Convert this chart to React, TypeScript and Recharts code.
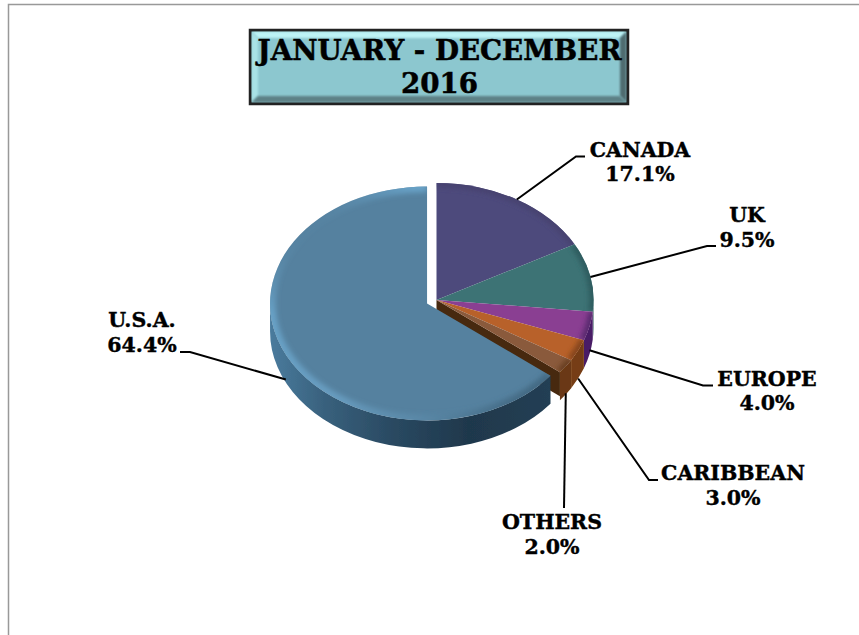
import { Pie, PieChart } from "recharts";

const categories = ["CANADA", "UK", "EUROPE", "CARIBBEAN", "OTHERS", "U.S.A."];
const values = [17.1, 9.5, 4.0, 3.0, 2.0, 64.4];
const titleLines = ["JANUARY - DECEMBER", "2016"];

const faceColors = ["#4d4a7c", "#3d7375", "#8a3f92", "#b8612a", "#8a5a3c", "#55819f"];
const wallColors = ["#3f3c68", "#2a5658", "#4a1f66", "#763d12", "#6a3812", "url(#usaWall)"];
const rimColors = ["#46436f", "#2f5c5e", "#5a2a70", "#84451a", "#6a3f22", "url(#usaRim)"];
const explode = [0, 0, 0, 0, 0, 10.5];

// label layout: text centre, first baseline, elbow points of the leader, drop onto the side wall
const labelX = [640, 747, 767, 733, 552, 142];
const labelY = [156.5, 222, 385.5, 480, 529, 327];
const leaderDrop = [0, 0, 24, 28, 27, 25];
const leaderEnds = [
  [[576, 156.5], [585, 156.5]],
  [[707, 246], [716, 246]],
  [[703, 385.5], [713, 385.5]],
  [[649, 480], [658, 480]],
  [[564, 508]],
  [[190, 352], [180, 352]],
];

const data = categories.map((name, i) => ({ name, value: values[i] }));

const WIDTH = 859;
const HEIGHT = 635;
const SQUASH = 0.745;
const DEPTH = 28;
const FONT = "'DejaVu Serif', serif";

const rad = (a: number) => (a * Math.PI) / 180;

function pointAt(cx: number, cy: number, r: number, a: number, dy = 0) {
  return [cx + r * Math.cos(rad(a)), cy - r * SQUASH * Math.sin(rad(a)) + dy];
}

function exploded(cx: number, cy: number, mid: number, i: number) {
  const [x, y] = pointAt(cx, cy, explode[i], mid);
  return [x, y];
}

function TiltedSlice(props: any) {
  const { cx, cy, outerRadius: r, startAngle, endAngle, midAngle } = props;
  const i = categories.indexOf(props.name ?? props.payload?.name);
  const [ax, ay] = exploded(cx, cy, midAngle, i);
  const ry = r * SQUASH;
  const [x1, y1] = pointAt(ax, ay, r, startAngle);
  const [x2, y2] = pointAt(ax, ay, r, endAngle);
  const large = Math.abs(startAngle - endAngle) > 180 ? 1 : 0;
  const arc = `M${x1},${y1} A${r},${ry} 0 ${large} 1 ${x2},${y2}`;
  const face = `M${ax},${ay} L${x1},${y1} A${r},${ry} 0 ${large} 1 ${x2},${y2} Z`;

  // only the front half of the rim has a visible side wall
  const wallFrom = Math.min(startAngle, 0);
  const wallTo = Math.max(endAngle, -180);
  let wall = "";
  if (wallFrom > wallTo) {
    const [wx1, wy1] = pointAt(ax, ay, r, wallFrom);
    const [wx2, wy2] = pointAt(ax, ay, r, wallTo);
    const wl = wallFrom - wallTo > 180 ? 1 : 0;
    wall = `M${wx1},${wy1} A${r},${ry} 0 ${wl} 1 ${wx2},${wy2} L${wx2},${wy2 + DEPTH} A${r},${ry} 0 ${wl} 0 ${wx1},${wy1 + DEPTH} Z`;
  }
  // the cut side shows where the big slice is pulled away
  const cut = i === 4 ? `M${ax},${ay} L${x2},${y2} L${x2},${y2 + DEPTH - 4} L${ax},${ay + DEPTH - 4} Z` : "";

  return (
    <g>
      {cut && <path d={cut} fill="#47290f" />}
      {wall && <path d={wall} fill={wallColors[i]} filter="url(#softEdge)" />}
      <path d={face} fill={faceColors[i]} />
      <clipPath id={`face-${i}`}>
        <path d={face} />
      </clipPath>
      <g clipPath={`url(#face-${i})`}>
        <path d={arc} fill="none" stroke={rimColors[i]} strokeWidth={i === 5 ? 11 : 9} filter="url(#rimBlur)" />
      </g>
    </g>
  );
}

function LeaderLabel(props: any) {
  const { cx, cy, outerRadius: r, midAngle, index, name, value } = props;
  const [ax, ay] = exploded(cx, cy, midAngle, index);
  const start = pointAt(ax, ay, r, midAngle, leaderDrop[index]);
  const pts = [start, ...leaderEnds[index]].map((p) => p.join(",")).join(" ");
  const textProps = {
    textAnchor: "middle" as const,
    fontFamily: FONT,
    fontWeight: 700,
    fontSize: 20.5,
    fill: "#000",
    stroke: "#000",
    strokeWidth: 0.4,
  };
  return (
    <g>
      <polyline points={pts} fill="none" stroke="#000" strokeWidth={2} />
      <text x={labelX[index]} y={labelY[index]} {...textProps}>
        {name}
      </text>
      <text x={labelX[index]} y={labelY[index] + 24.5} {...textProps}>
        {`${value.toFixed(1)}%`}
      </text>
    </g>
  );
}

export default function App() {
  const titleProps = {
    textAnchor: "middle" as const,
    fontFamily: FONT,
    fontWeight: 700,
    fontSize: 27.7,
    fill: "#000",
    stroke: "#000",
    strokeWidth: 0.5,
  };
  return (
    <div style={{ position: "absolute", left: 0, top: 0, width: WIDTH, height: HEIGHT, background: "#fff" }}>
      <PieChart width={WIDTH} height={HEIGHT} margin={{ top: 0, right: 0, bottom: 0, left: 0 }}>
        <defs>
          <filter id="rimBlur" filterUnits="userSpaceOnUse" x="0" y="0" width={WIDTH} height={HEIGHT}>
            <feGaussianBlur stdDeviation="2.6" />
          </filter>
          <filter id="softEdge" filterUnits="userSpaceOnUse" x="0" y="0" width={WIDTH} height={HEIGHT}>
            <feGaussianBlur stdDeviation="0.5" />
          </filter>
          <filter id="bevelBlur" filterUnits="userSpaceOnUse" x="0" y="0" width={WIDTH} height={HEIGHT}>
            <feGaussianBlur stdDeviation="1" />
          </filter>
          <linearGradient id="usaWall" gradientUnits="userSpaceOnUse" x1="270" y1="0" x2="553" y2="0">
            <stop offset="0%" stopColor="#4a7b9d" />
            <stop offset="20%" stopColor="#38607c" />
            <stop offset="45%" stopColor="#294860" />
            <stop offset="70%" stopColor="#1f384c" />
            <stop offset="100%" stopColor="#233f54" />
          </linearGradient>
          <linearGradient id="usaRim" gradientUnits="userSpaceOnUse" x1="300" y1="235" x2="480" y2="435">
            <stop offset="0%" stopColor="#6aa5cb" stopOpacity={0} />
            <stop offset="15%" stopColor="#6aa5cb" stopOpacity={0.9} />
            <stop offset="55%" stopColor="#6aa0c4" stopOpacity={0.85} />
            <stop offset="80%" stopColor="#5f90b0" stopOpacity={0.5} />
            <stop offset="100%" stopColor="#3c6078" stopOpacity={0.7} />
          </linearGradient>
        </defs>

        <rect x={8.5} y={4.5} width={WIDTH} height={HEIGHT} fill="none" stroke="#999" strokeWidth={1.5} />

        <rect x={249} y={29} width={380} height={76} fill="#222" />
        <rect x={251.5} y={31.5} width={375} height={71} fill="#8cc7cf" />
        <polygon points="251.5,31.5 626.5,31.5 620,38 258,38" fill="#bdf3f6" filter="url(#bevelBlur)" />
        <polygon points="251.5,31.5 258,38 258,96 251.5,102.5" fill="#a9e2e6" filter="url(#bevelBlur)" />
        <polygon points="626.5,31.5 620,38 620,96 626.5,102.5" fill="#4f6c70" filter="url(#bevelBlur)" />
        <polygon points="251.5,102.5 258,96 620,96 626.5,102.5" fill="#5d8186" filter="url(#bevelBlur)" />
        <rect x={250} y={30} width={378} height={74} fill="none" stroke="#222" strokeWidth={2.5} />
        <text x={439.5} y={60} {...titleProps}>
          {titleLines[0]}
        </text>
        <text x={439.5} y={92.5} {...titleProps}>
          {titleLines[1]}
        </text>

        <Pie
          data={data}
          dataKey="value"
          nameKey="name"
          cx={436.5}
          cy={300}
          innerRadius={0}
          outerRadius={157}
          startAngle={90}
          endAngle={-270}
          stroke="none"
          shape={TiltedSlice}
          label={LeaderLabel}
          labelLine={false}
          isAnimationActive={false}
        />
      </PieChart>
    </div>
  );
}
